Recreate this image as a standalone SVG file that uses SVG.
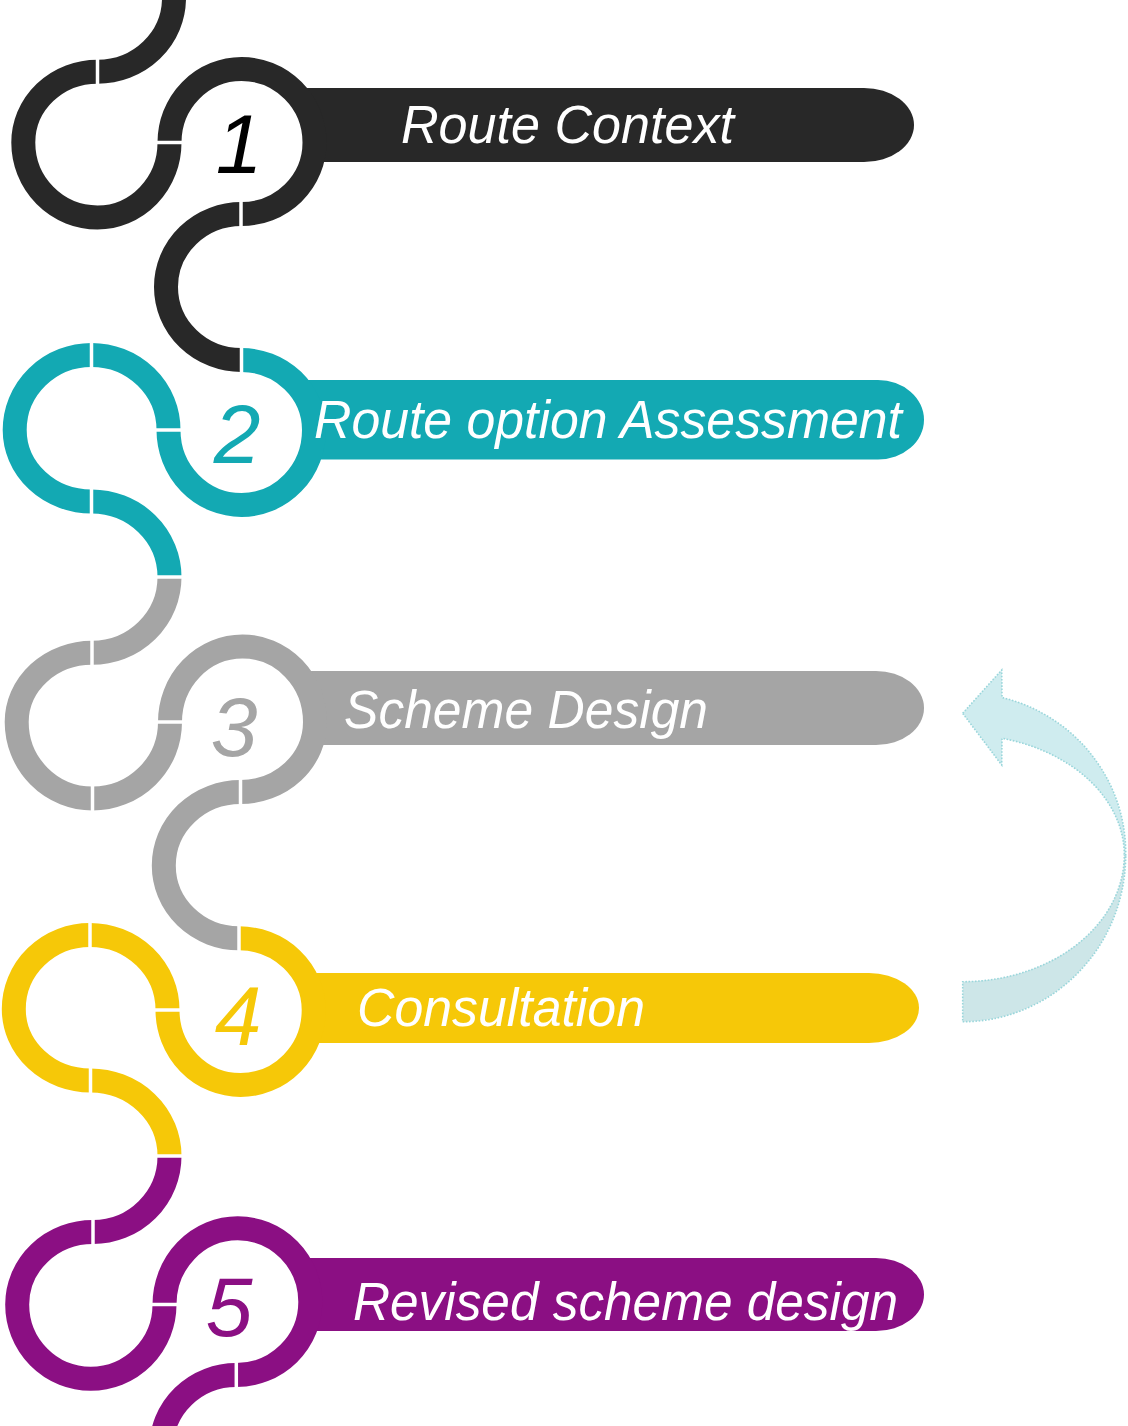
<svg xmlns="http://www.w3.org/2000/svg" width="1128" height="1426" viewBox="0 0 1128 1426">
<style>
.arc{fill:none;stroke-width:24;stroke-linecap:butt}
.k{stroke:#282828}.t{stroke:#13A9B3}.g{stroke:#A5A5A5}.y{stroke:#F6C808}.p{stroke:#8B0F83}
.disc{fill:#FFFFFF}
.lbl{font-family:"Liberation Sans",Arial,sans-serif;font-style:italic;font-size:53px;fill:#FFFFFF}
.num{font-family:"Liberation Sans",Arial,sans-serif;font-style:italic;font-size:84px;text-anchor:middle}
.gap{stroke:#FFFFFF;stroke-width:3.5}
.arrow{stroke:#9AD6DB;stroke-width:1.6;stroke-dasharray:1.6 1.6}
</style>
<rect width="1128" height="1426" fill="#FFFFFF"/>

<g id="step-1">
<path d="M260,88 H864 A50,37 0 0 1 864,162 H260 Z" fill="#282828"/>
<circle class="disc" cx="242" cy="142" r="64"/>
<path class="arc k" d="M169.5,142.5 A72,73.5 0 0 1 241.5,69 A73,73.5 0 0 1 314.5,142.5 A73,71.5 0 0 1 241.5,214"/>
<text class="num" x="239" y="173" fill="#000000">1</text>
<text class="lbl" x="401" y="143" textLength="333" lengthAdjust="spacingAndGlyphs">Route Context</text>
</g>

<g id="step-2">
<path d="M260,380 H878 A46,39.75 0 0 1 878,459.5 H260 Z" fill="#13A9B3"/>
<circle class="disc" cx="241.5" cy="432" r="64"/>
<path class="arc t" d="M241.5,360 A72.5,70 0 0 1 314,430 A72.5,75 0 0 1 241.5,505 A73,75 0 0 1 168.5,430"/>
<text class="num" x="237" y="463" fill="#13A9B3">2</text>
<text class="lbl" x="314" y="438" textLength="588" lengthAdjust="spacingAndGlyphs">Route option Assessment</text>
</g>

<g id="step-3">
<path d="M260,671 H876 A48,37 0 0 1 876,745 H260 Z" fill="#A5A5A5"/>
<circle class="disc" cx="242.5" cy="720" r="64"/>
<path class="arc g" d="M170,722 A72.5,75.5 0 0 1 242.5,646.5 A72.5,75.5 0 0 1 315,722 A74.5,70 0 0 1 240.5,792"/>
<text class="num" x="234" y="756" fill="#A5A5A5">3</text>
<text class="lbl" x="344" y="728" textLength="364" lengthAdjust="spacingAndGlyphs">Scheme Design</text>
</g>

<g id="step-4">
<path d="M260,973 H869 A50,35 0 0 1 869,1043 H260 Z" fill="#F6C808"/>
<circle class="disc" cx="240.5" cy="1011" r="64"/>
<path class="arc y" d="M239,938.3 A74.7,71.7 0 0 1 313.7,1010 A73.2,75 0 0 1 240.5,1085 A73,75 0 0 1 167.5,1010"/>
<text class="num" x="238" y="1045" fill="#F6C808">4</text>
<text class="lbl" x="357" y="1026" textLength="288" lengthAdjust="spacingAndGlyphs">Consultation</text>
</g>

<g id="step-5">
<path d="M260,1258 H876 A48,36.5 0 0 1 876,1331 H260 Z" fill="#8B0F83"/>
<circle class="disc" cx="237.5" cy="1302" r="64"/>
<path class="arc p" d="M164.5,1304.5 A73.2,76.2 0 0 1 237.7,1228.3 A72.6,73.7 0 0 1 310.3,1302 A74,73 0 0 1 236.3,1375"/>
<text class="num" x="229" y="1336" fill="#8B0F83">5</text>
<text class="lbl" x="353" y="1320" textLength="545" lengthAdjust="spacingAndGlyphs">Revised scheme design</text>
</g>

<g id="connectors">
<path class="arc k" d="M174,-2 A76.5,73.7 0 0 1 97.5,71.7"/>
<path class="arc k" d="M97.5,71.7 A74.2,70.8 0 0 0 23.3,142.5 A74.2,75 0 0 0 97.5,217.5 A72,75 0 0 0 169.5,142.5"/>
<path class="arc k" d="M241.5,214 A75.5,73 0 0 0 166,287 A75.5,73 0 0 0 241.5,360"/>
<path class="arc t" d="M168.5,430 A77,75 0 0 0 91.5,355 A76.8,75 0 0 0 14.7,430 A76.8,71.5 0 0 0 91.5,501.5"/>
<path class="arc t" d="M91.5,501.5 A78,75.5 0 0 1 169.5,577"/>
<path class="arc g" d="M169.5,577 A77.5,75.8 0 0 1 92,652.8"/>
<path class="arc g" d="M92,652.8 A75.3,69.2 0 0 0 16.7,722 A75.8,76.5 0 0 0 92.5,798.5 A77.5,76.5 0 0 0 170,722"/>
<path class="arc g" d="M240.5,792 A76.7,73.5 0 0 0 163.8,865.5 A75.2,72.8 0 0 0 239,938.3"/>
<path class="arc y" d="M167.5,1010 A77.5,75 0 0 0 90,935 A76.2,74 0 0 0 13.8,1009 A76.7,71.5 0 0 0 90.5,1080.5"/>
<path class="arc y" d="M90.5,1080.5 A79,75.5 0 0 1 169.5,1156"/>
<path class="arc p" d="M169.5,1156 A76.5,76 0 0 1 93,1232"/>
<path class="arc p" d="M93,1232 A75.8,72.5 0 0 0 17.2,1304.5 A73.5,74.2 0 0 0 90.7,1378.7 A73.8,74.2 0 0 0 164.5,1304.5"/>
<path class="arc p" d="M236.3,1375 A75,73 0 0 0 161.3,1448"/>

<g id="gaps">
<line class="gap" x1="97.5" y1="58" x2="97.5" y2="86"/>
<line class="gap" x1="155" y1="142.5" x2="184" y2="142.5"/>
<line class="gap" x1="241" y1="200" x2="241" y2="228"/>
<line class="gap" x1="241.5" y1="346" x2="241.5" y2="374"/>
<line class="gap" x1="154" y1="430" x2="183" y2="430"/>
<line class="gap" x1="91.5" y1="341" x2="91.5" y2="369"/>
<line class="gap" x1="91.5" y1="487" x2="91.5" y2="516"/>
<line class="gap" x1="155" y1="577" x2="184" y2="577"/>
<line class="gap" x1="92" y1="639" x2="92" y2="667"/>
<line class="gap" x1="92.5" y1="784" x2="92.5" y2="813"/>
<line class="gap" x1="155" y1="722" x2="185" y2="722"/>
<line class="gap" x1="240.5" y1="778" x2="240.5" y2="806"/>
<line class="gap" x1="239" y1="924" x2="239" y2="953"/>
<line class="gap" x1="153" y1="1010" x2="182" y2="1010"/>
<line class="gap" x1="90" y1="921" x2="90" y2="949"/>
<line class="gap" x1="90.5" y1="1066" x2="90.5" y2="1095"/>
<line class="gap" x1="155" y1="1156" x2="184" y2="1156"/>
<line class="gap" x1="93" y1="1218" x2="93" y2="1246"/>
<line class="gap" x1="150" y1="1304.5" x2="179" y2="1304.5"/>
<line class="gap" x1="236.3" y1="1361" x2="236.3" y2="1389"/>
</g>

<g id="feedback-arrow">
<path class="arrow" fill="#CDE6E8" d="M962.7,1021.7 A162.7,166.7 0 0 0 1125.7,855 L1124.3,855 A161.6,126.7 0 0 1 962.7,981.7 Z"/>
<path class="arrow" fill="#CFECEF" d="M962.7,713.3 L1001.7,670 L1002,697.5 A162.7,160 0 0 1 1125.7,855 L1124.3,855 A161.3,120.4 0 0 0 1002,738.3 L1001.7,765 Z"/>
</g>
</g>
</svg>
